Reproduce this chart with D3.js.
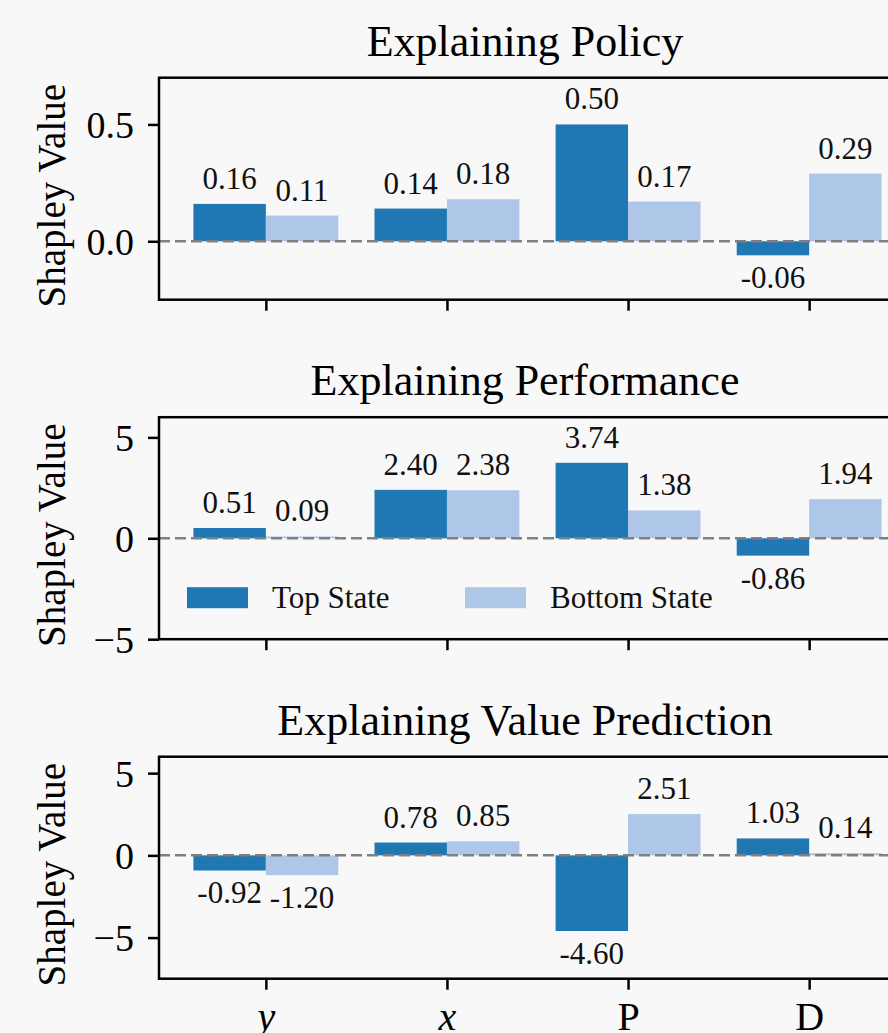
<!DOCTYPE html>
<html>
<head>
<meta charset="utf-8">
<script src="https://cdn.jsdelivr.net/npm/d3@7"></script>
<style>
  html, body { margin: 0; padding: 0; background: #f8f8f8; overflow: hidden; }
  svg { display: block; font-family: "Liberation Serif", "DejaVu Serif", serif; }
</style>
</head>
<body>
<svg id="chart" width="888" height="1033"></svg>
<script>
const categories = ['y', 'x', 'P', 'D'];
const seriesNames = ['Top State', 'Bottom State'];

const policyTop = [0.16, 0.14, 0.50, -0.06];
const policyBottom = [0.11, 0.18, 0.17, 0.29];
const perfTop = [0.51, 2.40, 3.74, -0.86];
const perfBottom = [0.09, 2.38, 1.38, 1.94];
const valueTop = [-0.92, 0.78, -4.60, 1.03];
const valueBottom = [-1.20, 0.85, 2.51, 0.14];

const policyTicks = [0.0, 0.5];
const perfTicks = [-5, 0, 5];
const valueTicks = [-5, 0, 5];

const policyLimits = [-0.25, 0.7];
const perfLimits = [-5, 6];
const valueLimits = [-7.5, 6];

const panels = [
  {title: 'Explaining Policy', top: policyTop, bottom: policyBottom, ticks: policyTicks, limits: policyLimits, fmt: d3.format('.1f')},
  {title: 'Explaining Performance', top: perfTop, bottom: perfBottom, ticks: perfTicks, limits: perfLimits, fmt: d3.format('d'), legend: true},
  {title: 'Explaining Value Prediction', top: valueTop, bottom: valueBottom, ticks: valueTicks, limits: valueLimits, fmt: d3.format('d'), xlabels: true}
];

const colors = ['#1f77b4', '#aec7e8'];
const left = 159, right = 916;
const firstTop = 77.7, panelStep = 339.5, panelHeight = 222;
const serif = '"Liberation Serif", "DejaVu Serif", serif';

const svg = d3.select('#chart');
svg.append('rect').attr('width', 888).attr('height', 1033).attr('fill', '#f8f8f8');

const x = d3.scalePoint()
  .domain(categories)
  .range([left, right])
  .padding(0.59);
const barW = x.step() * 0.4;

panels.forEach((p, k) => {
  const y0 = firstTop + k * panelStep;
  const y1 = y0 + panelHeight;
  const y = d3.scaleLinear().domain(p.limits).range([y1, y0]);
  const g = svg.append('g');

  // bars
  [p.top, p.bottom].forEach((vals, s) => {
    g.append('g').selectAll('rect')
      .data(vals)
      .enter().append('rect')
      .attr('x', (d, i) => x(categories[i]) - barW + s * barW)
      .attr('width', barW)
      .attr('y', (d) => y(Math.max(0, d)))
      .attr('height', (d) => Math.abs(y(d) - y(0)))
      .attr('fill', colors[s]);

    g.append('g').selectAll('text')
      .data(vals)
      .enter().append('text')
      .attr('x', (d, i) => x(categories[i]) - barW / 2 + s * barW)
      .attr('y', (d) => d >= 0 ? y(d) - 15 : y(d) + 33)
      .attr('text-anchor', 'middle')
      .attr('font-size', 31)
      .attr('fill', '#111')
      .text((d) => d.toFixed(2));
  });

  // zero line
  g.append('line')
    .attr('x1', left).attr('x2', right)
    .attr('y1', y(0)).attr('y2', y(0))
    .attr('stroke', '#808080')
    .attr('stroke-width', 2.5)
    .attr('stroke-dasharray', '11,5');

  // y axis
  const ya = g.append('g')
    .attr('transform', 'translate(' + left + ',0)')
    .call(d3.axisLeft(y).tickValues(p.ticks).tickFormat(p.fmt).tickSize(11).tickPadding(14));
  ya.attr('font-family', serif).attr('font-size', 38);
  ya.select('.domain').remove();
  ya.selectAll('line').attr('stroke', '#000').attr('stroke-width', 2.5);
  ya.selectAll('text').attr('fill', '#000').attr('dy', '0.34em');

  // x axis
  const xa = g.append('g')
    .attr('transform', 'translate(0,' + y1 + ')')
    .call(d3.axisBottom(x).tickSize(11).tickPadding(14)
      .tickFormat(p.xlabels ? (d) => d : () => ''));
  xa.attr('font-family', serif).attr('font-size', 40);
  xa.select('.domain').remove();
  xa.selectAll('line').attr('stroke', '#000').attr('stroke-width', 2.5);
  xa.selectAll('text')
    .attr('fill', '#000')
    .attr('dy', null)
    .attr('y', 51)
    .attr('font-style', (d) => /^[a-z]$/.test(d) ? 'italic' : 'normal');

  // frame
  g.append('rect')
    .attr('x', left).attr('y', y0)
    .attr('width', right - left).attr('height', panelHeight)
    .attr('fill', 'none')
    .attr('stroke', '#000')
    .attr('stroke-width', 2.5);

  // title
  g.append('text')
    .attr('x', 525)
    .attr('y', y0 - 22)
    .attr('text-anchor', 'middle')
    .attr('font-size', 44)
    .attr('fill', '#000')
    .text(p.title);

  // y label
  g.append('text')
    .attr('transform', 'translate(65,' + ((y0 + y1) / 2 + 7) + ') rotate(-90)')
    .attr('text-anchor', 'middle')
    .attr('font-size', 39)
    .attr('fill', '#000')
    .text('Shapley Value');

  if (p.legend) {
    const legX = [187, 465];
    const lg = g.append('g').selectAll('g')
      .data(seriesNames)
      .enter().append('g')
      .attr('transform', (d, i) => 'translate(' + legX[i] + ',' + (y0 + 170) + ')');
    lg.append('rect')
      .attr('width', 61).attr('height', 21)
      .attr('fill', (d, i) => colors[i]);
    lg.append('text')
      .attr('x', 85).attr('y', 21)
      .attr('font-size', 31)
      .attr('fill', '#111')
      .text((d) => d);
  }
});
</script>
</body>
</html>
